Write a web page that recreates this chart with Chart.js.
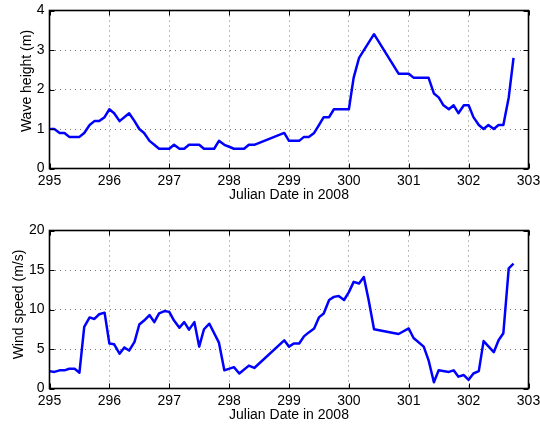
<!DOCTYPE html>
<html>
<head>
<meta charset="utf-8">
<title>Wave height and wind speed, Julian days 295–303, 2008</title>
<script src="https://cdn.jsdelivr.net/npm/chart.js@4/dist/chart.umd.min.js"></script>
<style>
  html, body { margin: 0; padding: 0; background: #fff; }
  #wrap { position: relative; width: 540px; height: 426px; }
  canvas { position: absolute; left: 0; }
  #waveCanvas { top: 0; }
  #windCanvas { top: 213px; }
</style>
</head>
<body>
<div id="wrap">
  <canvas id="waveCanvas" width="540" height="213"></canvas>
  <canvas id="windCanvas" width="540" height="213"></canvas>
</div>
<script>
// Julian day of each wave observation and the wave height (m)
const waveDays = [
  295.00, 295.08, 295.17, 295.25, 295.33, 295.50, 295.58, 295.67, 295.75, 295.83,
  295.92, 296.00, 296.08, 296.17, 296.33, 296.42, 296.50, 296.58, 296.67, 296.75,
  296.83, 297.00, 297.08, 297.17, 297.25, 297.33, 297.50, 297.58, 297.75, 297.83,
  297.92, 298.00, 298.08, 298.25, 298.33, 298.42, 298.92, 299.00, 299.17, 299.25,
  299.33, 299.42, 299.50, 299.58, 299.67, 299.75, 300.00, 300.08, 300.17, 300.42,
  300.83, 301.00, 301.08, 301.33, 301.42, 301.50, 301.58, 301.67, 301.75, 301.83,
  301.92, 302.00, 302.08, 302.17, 302.25, 302.33, 302.42, 302.50, 302.58, 302.67,
  302.75
];
const waveHeight = [
  1.0, 1.0, 0.9, 0.9, 0.8, 0.8, 0.9, 1.1, 1.2, 1.2,
  1.3, 1.5, 1.4, 1.2, 1.4, 1.2, 1.0, 0.9, 0.7, 0.6,
  0.5, 0.5, 0.6, 0.5, 0.5, 0.6, 0.6, 0.5, 0.5, 0.7,
  0.6, 0.55, 0.5, 0.5, 0.6, 0.6, 0.9, 0.7, 0.7, 0.8,
  0.8, 0.9, 1.1, 1.3, 1.3, 1.5, 1.5, 2.3, 2.8, 3.4,
  2.4, 2.4, 2.3, 2.3, 1.9, 1.8, 1.6, 1.5, 1.6, 1.4,
  1.6, 1.6, 1.3, 1.1, 1.0, 1.1, 1.0, 1.1, 1.1, 1.8,
  2.8
];

// Julian day of each wind observation and the wind speed (m/s)
const windDays = [
  295.00, 295.08, 295.17, 295.25, 295.33, 295.42, 295.50, 295.58, 295.67, 295.75,
  295.83, 295.92, 296.00, 296.08, 296.17, 296.25, 296.33, 296.42, 296.50, 296.58,
  296.67, 296.75, 296.83, 296.92, 297.00, 297.08, 297.17, 297.25, 297.33, 297.42,
  297.50, 297.58, 297.67, 297.83, 297.92, 298.08, 298.17, 298.33, 298.42, 298.92,
  299.00, 299.08, 299.17, 299.25, 299.33, 299.42, 299.50, 299.58, 299.67, 299.75,
  299.83, 299.92, 300.00, 300.08, 300.17, 300.25, 300.33, 300.42, 300.83, 301.00,
  301.08, 301.25, 301.33, 301.42, 301.50, 301.67, 301.75, 301.83, 301.92, 302.00,
  302.08, 302.17, 302.25, 302.42, 302.50, 302.58, 302.67, 302.75
];
const windSpeed = [
  2.2, 2.1, 2.3, 2.3, 2.5, 2.5, 2.0, 7.8, 9.0, 8.8,
  9.4, 9.6, 5.7, 5.6, 4.4, 5.2, 4.8, 5.9, 8.1, 8.6,
  9.3, 8.4, 9.5, 9.8, 9.7, 8.6, 7.7, 8.4, 7.45, 8.4,
  5.3, 7.5, 8.2, 5.8, 2.3, 2.7, 1.9, 2.9, 2.6, 6.1,
  5.3, 5.7, 5.7, 6.6, 7.1, 7.6, 9.0, 9.5, 11.2, 11.6,
  11.7, 11.2, 12.2, 13.5, 13.3, 14.1, 11.2, 7.5, 6.9, 7.6,
  6.4, 5.3, 3.6, 0.8, 2.3, 2.1, 2.3, 1.5, 1.7, 1.1,
  1.9, 2.2, 6.0, 4.6, 6.1, 7.0, 15.2, 15.8
];

// Axis ticks
const dayTicks = [295, 296, 297, 298, 299, 300, 301, 302, 303];
const waveTicks = [0, 1, 2, 3, 4];
const windTicks = [0, 5, 10, 15, 20];

const FONT_FAMILY = '"Liberation Sans", Arial, Helvetica, sans-serif';
const FONT = { family: FONT_FAMILY, size: 14 };
const GRID = '#7a7a7a';

// Closed box around the plot with inward tick marks on all four sides,
// plus the rotated y-axis label.
const axesBox = {
  id: 'axesBox',
  afterDatasetsDraw(chart, _args, opts) {
    const { ctx, chartArea: a, scales: { x, y } } = chart;
    ctx.save();
    ctx.strokeStyle = '#000';
    ctx.lineWidth = 1;
    const tl = 5;
    ctx.beginPath();
    x.ticks.forEach(t => {
      const px = Math.round(x.getPixelForValue(t.value)) + 0.5;
      ctx.moveTo(px, a.bottom); ctx.lineTo(px, a.bottom - tl);
      ctx.moveTo(px, a.top); ctx.lineTo(px, a.top + tl);
    });
    y.ticks.forEach(t => {
      const py = Math.round(y.getPixelForValue(t.value)) + 0.5;
      ctx.moveTo(a.left, py); ctx.lineTo(a.left + tl, py);
      ctx.moveTo(a.right, py); ctx.lineTo(a.right - tl, py);
    });
    ctx.stroke();
    ctx.lineWidth = 1.6;
    ctx.strokeRect(a.left, a.top, a.right - a.left, a.bottom - a.top);

    ctx.font = '14px ' + FONT_FAMILY;
    ctx.fillStyle = '#000';
    ctx.translate(opts.x, opts.y);
    ctx.rotate(-Math.PI / 2);
    ctx.textAlign = 'center';
    ctx.textBaseline = 'middle';
    ctx.fillText(opts.text, 0, 0);
    ctx.restore();
  }
};

function makeChart(canvasId, days, values, yTicks, yTitle, box) {
  const points = days.map((d, i) => ({ x: d, y: values[i] }));
  const yMax = yTicks[yTicks.length - 1];
  const yStep = yTicks[1] - yTicks[0];
  return new Chart(document.getElementById(canvasId), {
    type: 'line',
    data: {
      datasets: [{
        data: points,
        borderColor: '#0000ff',
        borderWidth: 2.5,
        pointRadius: 0,
        tension: 0,
        fill: false,
        borderJoinStyle: 'round'
      }]
    },
    options: {
      responsive: false,
      animation: false,
      events: [],
      layout: { padding: { left: 0, right: 540 - 528.5, top: box.top, bottom: 0 } },
      plugins: {
        legend: { display: false },
        tooltip: { enabled: false },
        axesBox: { text: yTitle, x: box.titleX, y: box.titleY }
      },
      scales: {
        x: {
          type: 'linear',
          min: dayTicks[0],
          max: dayTicks[dayTicks.length - 1],
          afterBuildTicks(s) { s.ticks = dayTicks.map(v => ({ value: v })); },
          afterFit(s) {
            s.height = 213 - box.bottom;
            s.paddingLeft = 0; s.paddingRight = 0;
          },
          ticks: { color: '#000', font: FONT, padding: 4, maxRotation: 0, autoSkip: false },
          grid: { color: GRID, lineWidth: 1, drawTicks: false },
          border: { display: false, dash: [1, 4] },
          title: {
            display: true,
            text: 'Julian Date in 2008',
            color: '#000',
            font: FONT,
            padding: { top: 0, bottom: box.xTitlePad }
          }
        },
        y: {
          type: 'linear',
          min: 0,
          max: yMax,
          ticks: { stepSize: yStep, color: '#000', font: FONT, padding: 5 },
          afterBuildTicks(s) { s.ticks = yTicks.map(v => ({ value: v })); },
          afterFit(s) {
            s.width = 49.5;
            s.paddingTop = 0; s.paddingBottom = 0;
          },
          grid: { color: GRID, lineWidth: 1, drawTicks: false },
          border: { display: false, dash: [1, 4] }
        }
      }
    },
    plugins: [axesBox]
  });
}

makeChart('waveCanvas', waveDays, waveHeight, waveTicks, 'Wave height (m)',
  { top: 10.5, bottom: 168.5, titleX: 27, titleY: 81, xTitlePad: 9.6 });
makeChart('windCanvas', windDays, windSpeed, windTicks, 'Wind speed (m/s)',
  { top: 17.5, bottom: 175.5, titleX: 19.5, titleY: 91.5, xTitlePad: 2.6 });
</script>
</body>
</html>
